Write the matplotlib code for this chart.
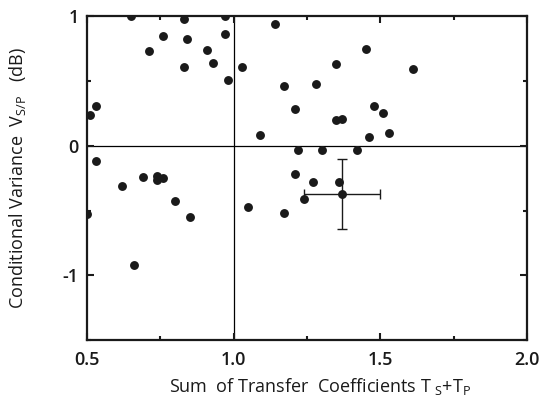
import matplotlib
matplotlib.use("Agg")
import matplotlib.pyplot as plt
from matplotlib.ticker import MultipleLocator

plt.rcParams['font.family'] = ['Open Sans', 'DejaVu Sans']
plt.rcParams['mathtext.fontset'] = 'custom'
plt.rcParams['mathtext.rm'] = 'Open Sans'

x_vals = [0.65, 0.83, 0.97, 0.76, 0.84, 0.71, 0.91, 0.93, 0.83, 0.97, 0.98, 1.03,
          0.53, 0.51, 1.09, 0.53, 0.62, 0.69, 0.74, 0.74, 0.76, 0.80, 0.85, 0.50,
          0.66, 1.05, 1.14, 1.45, 1.35, 1.61, 1.17, 1.28, 1.21, 1.48, 1.51, 1.35,
          1.37, 1.46, 1.53, 1.22, 1.30, 1.42, 1.21, 1.27, 1.36, 1.24, 1.17]
y_vals = [1.00, 0.98, 1.00, 0.85, 0.82, 0.73, 0.74, 0.64, 0.61, 0.86, 0.51, 0.61,
          0.31, 0.24, 0.08, -0.12, -0.31, -0.24, -0.23, -0.265, -0.25, -0.43, -0.55, -0.53,
          -0.92, -0.47, 0.94, 0.75, 0.63, 0.59, 0.46, 0.48, 0.28, 0.31, 0.25, 0.20,
          0.21, 0.07, 0.10, -0.03, -0.03, -0.03, -0.22, -0.28, -0.28, -0.41, -0.52]

err_x = [1.37]
err_y = [-0.37]
err_xerr = [0.13]
err_yerr = [0.27]

x_ticks = [0.5, 1.0, 1.5, 2.0]
x_ticklabels = ['0.5', '1.0', '1.5', '2.0']
y_ticks = [-1, 0, 1]
y_ticklabels = ['-1', '0', '1']

fig = plt.figure(figsize=(5.49, 4.03), dpi=100)
ax = fig.add_axes([0.1585, 0.156, 0.8015, 0.804])

ax.axvline(1.0, color='black', lw=0.9, zorder=1)
ax.axhline(0.0, color='black', lw=0.9, zorder=1)

ax.plot(x_vals, y_vals, 'o', color='#1a1a1a', ms=6.4, mec='none', zorder=3)
ax.errorbar(err_x, err_y, xerr=err_xerr, yerr=err_yerr, fmt='o', color='#1a1a1a',
            ms=6.4, mec='none', elinewidth=1.0, capsize=3.5, capthick=1.0, zorder=3)

ax.set_xlim(0.5, 2.0)
ax.set_ylim(-1.5, 1.0)
ax.xaxis.set_minor_locator(MultipleLocator(0.25))
ax.yaxis.set_minor_locator(MultipleLocator(0.5))
ax.set_xticks(x_ticks)
ax.set_xticklabels(x_ticklabels, fontweight='semibold')
ax.set_yticks(y_ticks)
ax.set_yticklabels(y_ticklabels, fontweight='semibold')

ax.tick_params(which='both', direction='in', top=True, right=True, width=1.5, colors='#1a1a1a')
ax.tick_params(which='major', length=5, labelsize=13)
ax.tick_params(axis='x', which='major', pad=8)
ax.tick_params(axis='y', which='major', pad=6)
ax.tick_params(which='minor', length=3)
for s in ax.spines.values():
    s.set_linewidth(1.6)
    s.set_color('#1a1a1a')

ax.set_xlabel(r'Sum  of Transfer  Coefficients T$_{\ \mathregular{S}}$+T$_\mathregular{P}$',
              fontsize=13, color='#1a1a1a')
ax.set_ylabel(r'Conditional Variance  V$_{\mathregular{S/P}}$   (dB)',
              fontsize=13, color='#1a1a1a')
ax.xaxis.set_label_coords(0.53, -0.11)
ax.yaxis.set_label_coords(-0.134, 0.5)

fig.savefig('out.png', dpi=100)
